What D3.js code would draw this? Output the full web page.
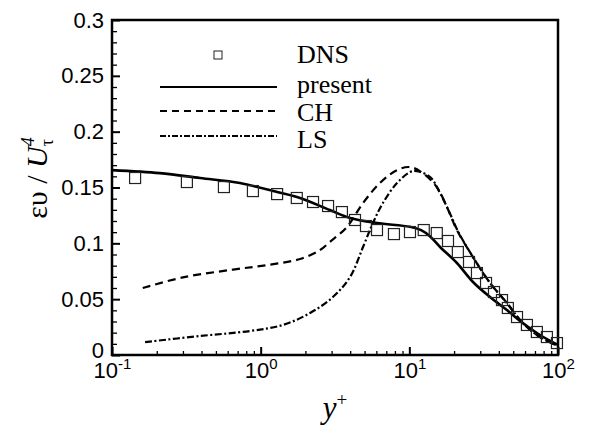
<!DOCTYPE html>
<html>
<head>
<meta charset="utf-8">
<script src="https://cdn.jsdelivr.net/npm/d3@7"></script>
<style>
  body { margin: 0; background: #fff; }
  svg { display: block; }
  .tick text { font-family: "Liberation Sans", Arial, sans-serif; }
</style>
</head>
<body>
<svg id="chart"></svg>
<script>
// DNS symbols
const dnsY = [0.143, 0.319, 0.566, 0.887, 1.29, 1.75, 2.25, 2.84, 3.52, 4.31, 5.11, 6.06, 7.88, 10.1, 12.5, 15.3, 18.2, 21.2, 25.2, 28.5, 32.8, 37.1, 42.0, 46.0, 53.0, 61.8, 72.1, 84.2, 98.4];
const dnsV = [0.1585, 0.1549, 0.1504, 0.1468, 0.1441, 0.1406, 0.1370, 0.1334, 0.1280, 0.1209, 0.1155, 0.1119, 0.1083, 0.1101, 0.1119, 0.1092, 0.1021, 0.0922, 0.0833, 0.0734, 0.0645, 0.0564, 0.0492, 0.0421, 0.0340, 0.0269, 0.0206, 0.0161, 0.0107];

// present model
const presY = [0.1, 0.21, 0.391, 0.726, 1.29, 1.84, 2.92, 3.99, 6.06, 10.1, 12.0, 13.8, 16.1, 20.9, 26.8, 34.9, 45.3, 58.0, 75.6, 100];
const presV = [0.1656, 0.1629, 0.1585, 0.1540, 0.1459, 0.1406, 0.1298, 0.1227, 0.1182, 0.1148, 0.1118, 0.1062, 0.0967, 0.0824, 0.0654, 0.0519, 0.0403, 0.0286, 0.0179, 0.0090];

// CH model
const chY = [0.161, 0.30, 0.652, 1.10, 1.84, 2.51, 2.92, 3.80, 4.88, 6.34, 8.26, 10.1, 12.3, 15.3, 17.9, 20.9, 26.8, 34.9, 45.3, 58.0, 75.6, 100];
const chV = [0.060, 0.0695, 0.0765, 0.0805, 0.0860, 0.0940, 0.1012, 0.1146, 0.1361, 0.1540, 0.1656, 0.1683, 0.1629, 0.1504, 0.1325, 0.1119, 0.0877, 0.0645, 0.0466, 0.0286, 0.0161, 0.0081];

// LS model
const lsY = [0.167, 0.391, 0.848, 1.41, 2.15, 3.06, 3.99, 4.88, 5.69, 6.64, 8.26, 10.1, 11.2, 13.8, 16.1, 18.7, 21.2, 26.8, 34.9, 45.3, 58.0, 75.6, 100];
const lsV = [0.0116, 0.0170, 0.0215, 0.0269, 0.0376, 0.0519, 0.0698, 0.0967, 0.1182, 0.1361, 0.1540, 0.1638, 0.1647, 0.1594, 0.1450, 0.1271, 0.1110, 0.0877, 0.0645, 0.0466, 0.0286, 0.0161, 0.0081];

const xMajor = [0.1, 1, 10, 100];
const xExp = ["-1", "0", "1", "2"];
const yMajor = [0, 0.05, 0.1, 0.15, 0.2, 0.25, 0.3];
const yLabels = ["0", "0.05", "0.1", "0.15", "0.2", "0.25", "0.3"];
const legendNames = ["DNS", "present", "CH", "LS"];

const width = 589, height = 429;
const mLeft = 112, mRight = 558, mTop = 20, mBottom = 355;

const svg = d3.select('#chart')
    .attr('width', width)
    .attr('height', height);

const x = d3.scaleLog().domain([0.1, 100]).range([mLeft, mRight]);
const y = d3.scaleLinear().domain([0, 0.3]).range([mBottom, mTop]);

// minor ticks
const xMinor = [];
[0.1, 1, 10].forEach(d => { for (let k = 2; k <= 9; k++) xMinor.push(d * k); });
const yMinor = d3.range(0, 31).map(i => i / 100).filter(v => Math.round(v * 100) % 5 !== 0);

svg.append('g')
    .attr('transform', `translate(0,${mBottom})`)
    .call(d3.axisBottom(x).tickValues(xMinor).tickSize(-4).tickFormat(''))
    .call(g => g.select('.domain').remove())
    .selectAll('line').attr('stroke', '#000').attr('stroke-width', 1.3);

const xAx = svg.append('g')
    .attr('transform', `translate(0,${mBottom})`)
    .call(d3.axisBottom(x).tickValues(xMajor).tickSize(-8).tickFormat(''))
    .call(g => g.select('.domain').remove());
xAx.selectAll('line').attr('stroke', '#000').attr('stroke-width', 2);
xAx.selectAll('.tick').append('text')
    .attr('y', 23)
    .attr('fill', '#000')
    .attr('text-anchor', 'middle')
    .style('font-size', '22px')
    .each(function (d, i) {
        const t = d3.select(this);
        t.append('tspan').text('10');
        t.append('tspan').attr('dy', '-9').style('font-size', '15px').text(xExp[i]);
    });

svg.append('g')
    .attr('transform', `translate(${mLeft},0)`)
    .call(d3.axisLeft(y).tickValues(yMinor).tickSize(-5).tickFormat(''))
    .call(g => g.select('.domain').remove())
    .selectAll('line').attr('stroke', '#000').attr('stroke-width', 1.3);

const yAx = svg.append('g')
    .attr('transform', `translate(${mLeft},0)`)
    .call(d3.axisLeft(y).tickValues(yMajor).tickSize(-8).tickPadding(8).tickFormat((d, i) => yLabels[i]))
    .call(g => g.select('.domain').remove());
yAx.selectAll('line').attr('stroke', '#000').attr('stroke-width', 2);
yAx.selectAll('text').attr('fill', '#000').style('font-size', '22px');
yAx.selectAll('.tick').filter(d => d === 0).select('text').attr('dy', '0.1em');

// frame
svg.append('rect')
    .attr('x', mLeft).attr('y', mTop)
    .attr('width', mRight - mLeft).attr('height', mBottom - mTop)
    .attr('fill', 'none').attr('stroke', '#000').attr('stroke-width', 2.5);

// curves
const line = d3.line()
    .x(d => x(d[0]))
    .y(d => y(d[1]))
    .curve(d3.curveCatmullRom.alpha(0.5));

const series = [
    { ys: presY, vs: presV, dash: null, w: 2.6 },
    { ys: chY, vs: chV, dash: '8,5', w: 2.2 },
    { ys: lsY, vs: lsV, dash: '7,2.5,2,2.5', w: 2.2 }
];

series.forEach(s => {
    svg.append('path')
        .datum(s.ys.map((v, i) => [v, s.vs[i]]))
        .attr('d', line)
        .attr('fill', 'none')
        .attr('stroke', '#000')
        .attr('stroke-width', s.w)
        .attr('stroke-dasharray', s.dash);
});

// DNS squares
const sq = 11;
svg.append('g').selectAll('rect')
    .data(dnsY.map((v, i) => [v, dnsV[i]]))
    .enter()
    .append('rect')
    .attr('x', d => x(d[0]) - sq / 2)
    .attr('y', d => y(d[1]) - sq / 2)
    .attr('width', sq).attr('height', sq)
    .attr('fill', 'none')
    .attr('stroke', '#222')
    .attr('stroke-width', 1.2);

// legend
const leg = svg.append('g').style('font-family', '"Liberation Serif", "Times New Roman", serif');
const legY = [55, 87, 111, 136];
const legBase = [63, 93, 121, 148];
leg.append('rect')
    .attr('x', 214).attr('y', legY[0] - 4)
    .attr('width', 8).attr('height', 8)
    .attr('fill', 'none').attr('stroke', '#222').attr('stroke-width', 1);
series.forEach((s, i) => {
    leg.append('line')
        .attr('x1', 160).attr('x2', 277)
        .attr('y1', legY[i + 1]).attr('y2', legY[i + 1])
        .attr('stroke', '#000')
        .attr('stroke-width', s.dash ? 1.8 : 2)
        .attr('stroke-dasharray', s.dash ? (i === 1 ? '7,5' : '6,2,2,2') : null);
});
legendNames.forEach((n, i) => {
    leg.append('text')
        .attr('x', 297).attr('y', legBase[i])
        .style('font-size', '26px')
        .text(n);
});

// axis titles
svg.append('text')
    .attr('x', 335).attr('y', 418)
    .attr('text-anchor', 'middle')
    .style('font-family', '"Liberation Serif", "Times New Roman", serif')
    .style('font-size', '31px')
    .call(t => {
        t.append('tspan').style('font-style', 'italic').text('y');
        t.append('tspan').attr('dy', '-12').style('font-size', '19px').text('+');
    });

svg.append('text')
    .attr('transform', 'translate(47,178) rotate(-90)')
    .attr('text-anchor', 'middle')
    .style('font-family', '"Liberation Serif", "Times New Roman", serif')
    .style('font-size', '30px')
    .call(t => {
        t.append('tspan').text('ευ / ');
        t.append('tspan').style('font-style', 'italic').text('U');
        t.append('tspan').attr('dy', '-13').style('font-size', '18px').style('font-style', 'italic').text('4');
        t.append('tspan').attr('dx', '-9').attr('dy', '19').style('font-size', '18px').text('τ');
    });
</script>
</body>
</html>
